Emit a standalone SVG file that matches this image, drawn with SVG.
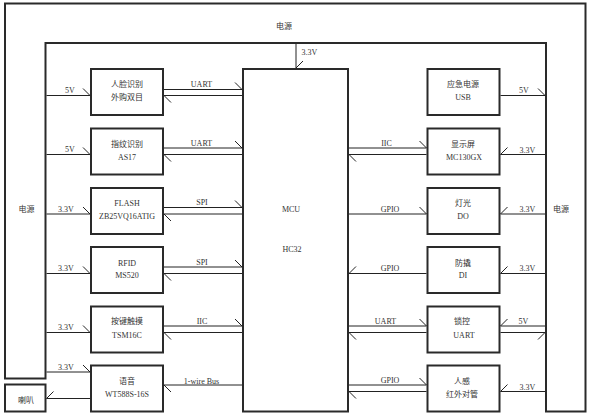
<svg xmlns="http://www.w3.org/2000/svg" width="592" height="417" viewBox="0 0 592 417">
<defs>
<style>
.frame{fill:none;stroke:#2a2a2a;stroke-width:2}
.box{fill:#fff;stroke:#2a2a2a;stroke-width:2}
.ln{stroke:#222;stroke-width:1;fill:none}
.t{font-family:"Liberation Serif","Noto Sans CJK SC",serif;font-size:8px;fill:#333;text-anchor:middle}
.a{marker-end:url(#ta)}
.b{marker-end:url(#tb)}
</style>
<marker id="ta" markerUnits="userSpaceOnUse" markerWidth="20" markerHeight="20" viewBox="-10 -10 20 20" refX="0" refY="0" orient="auto" overflow="visible"><path d="M-7,-7 L0,0" stroke="#222" stroke-width="1" fill="none"/></marker>
<marker id="tb" markerUnits="userSpaceOnUse" markerWidth="20" markerHeight="20" viewBox="-10 -10 20 20" refX="0" refY="0" orient="auto" overflow="visible"><path d="M-7,7 L0,0" stroke="#222" stroke-width="1" fill="none"/></marker>
</defs>
<rect width="592" height="417" fill="#fff"/>

<g id="power">
<polygon class="frame" points="5,3.5 585.5,3.5 585.5,411.5 546,411.5 546,43 45.5,43 45.5,378.5 5,378.5"/>
<text class="t" x="284" y="29">电源</text>
<text class="t" x="26.5" y="212">电源</text>
<text class="t" x="561" y="212">电源</text>
</g>

<g id="speaker">
<rect class="box" x="5" y="384.5" width="40.5" height="27"/>
<text class="t" x="26" y="403">喇叭</text>
</g>

<g id="mcu">
<rect class="box" x="243" y="69" width="105" height="342.5"/>
<text class="t" x="291" y="212">MCU</text>
<text class="t" x="292" y="252">HC32</text>
</g>

<g id="face">
<rect class="box" x="91" y="69" width="72" height="46"/>
<text class="t" x="127" y="86.5">人脸识别</text>
<text class="t" x="127" y="100">外购双目</text>
</g>
<g id="finger">
<rect class="box" x="91" y="128.5" width="72" height="46"/>
<text class="t" x="127" y="146.5">指纹识别</text>
<text class="t" x="127" y="159.5">AS17</text>
</g>
<g id="flash">
<rect class="box" x="91" y="188" width="72" height="46"/>
<text class="t" x="127" y="205.5">FLASH</text>
<text class="t" x="127" y="219">ZB25VQ16ATIG</text>
</g>
<g id="rfid">
<rect class="box" x="91" y="247" width="72" height="46"/>
<text class="t" x="127" y="265.5">RFID</text>
<text class="t" x="127" y="278">MS520</text>
</g>
<g id="touch">
<rect class="box" x="91" y="306.5" width="72" height="46"/>
<text class="t" x="127" y="324">按键触摸</text>
<text class="t" x="127" y="337.5">TSM16C</text>
</g>
<g id="voice">
<rect class="box" x="91" y="365.5" width="72" height="46"/>
<text class="t" x="127" y="384">语音</text>
<text class="t" x="127" y="396.5">WT588S-16S</text>
</g>

<g id="usb">
<rect class="box" x="427.5" y="69" width="72" height="46"/>
<text class="t" x="463" y="86.5">应急电源</text>
<text class="t" x="463" y="100">USB</text>
</g>
<g id="display">
<rect class="box" x="427.5" y="128.5" width="72" height="46"/>
<text class="t" x="463" y="146.5">显示屏</text>
<text class="t" x="464" y="159.5">MC130GX</text>
</g>
<g id="light">
<rect class="box" x="427.5" y="188" width="72" height="46"/>
<text class="t" x="463" y="205.5">灯光</text>
<text class="t" x="463" y="219">DO</text>
</g>
<g id="tamper">
<rect class="box" x="427.5" y="247" width="72" height="46"/>
<text class="t" x="463" y="265.5">防撬</text>
<text class="t" x="463" y="278">DI</text>
</g>
<g id="lock">
<rect class="box" x="427.5" y="306.5" width="72" height="46"/>
<text class="t" x="462" y="324">锁控</text>
<text class="t" x="464" y="337.5">UART</text>
</g>
<g id="pir">
<rect class="box" x="427.5" y="365.5" width="72" height="46"/>
<text class="t" x="462" y="384">人感</text>
<text class="t" x="462" y="396.5">红外对管</text>
</g>

<g id="connectors">
<path class="ln a" d="M296,44 V68"/>
<text class="t" x="309.5" y="55">3.3V</text>

<path class="ln a" d="M46.5,95.5 H90"/>
<path class="ln a" d="M46.5,154.5 H90"/>
<path class="ln a" d="M46.5,214 H90"/>
<path class="ln a" d="M46.5,273.5 H90"/>
<path class="ln a" d="M46.5,332.5 H90"/>
<path class="ln a" d="M46.5,372 H90"/>
<text class="t" x="70" y="93">5V</text>
<text class="t" x="70" y="152">5V</text>
<text class="t" x="66" y="211.5">3.3V</text>
<text class="t" x="66" y="271">3.3V</text>
<text class="t" x="66" y="330">3.3V</text>
<text class="t" x="66" y="369.5">3.3V</text>

<path class="ln a" d="M164,89.5 H242"/>
<path class="ln a" d="M242,95.5 H164"/>
<path class="ln a" d="M164,148 H242"/>
<path class="ln a" d="M242,154.5 H164"/>
<path class="ln a" d="M164,207.5 H242"/>
<path class="ln a" d="M242,214 H164"/>
<path class="ln a" d="M164,267 H242"/>
<path class="ln a" d="M242,273.5 H164"/>
<path class="ln a" d="M164,326 H242"/>
<path class="ln a" d="M242,332.5 H164"/>
<path class="ln a" d="M242,385 H164"/>
<path class="ln b" d="M90,398.5 H46.5"/>
<text class="t" x="201.5" y="87">UART</text>
<text class="t" x="201.5" y="145.5">UART</text>
<text class="t" x="202" y="205">SPI</text>
<text class="t" x="202" y="264.5">SPI</text>
<text class="t" x="202" y="323.5">IIC</text>
<text class="t" x="201.5" y="383.5">1-wire Bus</text>

<path class="ln a" d="M349,148 H426.5"/>
<path class="ln a" d="M426.5,154.5 H349"/>
<path class="ln a" d="M349,214 H426.5"/>
<path class="ln b" d="M426.5,273.5 H349"/>
<path class="ln a" d="M349,326 H426.5"/>
<path class="ln a" d="M426.5,332.5 H349"/>
<path class="ln a" d="M349,385 H426.5"/>
<path class="ln a" d="M426.5,391.5 H349"/>
<text class="t" x="386.5" y="145.5">IIC</text>
<text class="t" x="390" y="211.5">GPIO</text>
<text class="t" x="390" y="271">GPIO</text>
<text class="t" x="385.5" y="323.5">UART</text>
<text class="t" x="390" y="383">GPIO</text>

<path class="ln a" d="M500.5,95.5 H545"/>
<path class="ln b" d="M545,154.5 H500.5"/>
<path class="ln b" d="M545,214 H500.5"/>
<path class="ln b" d="M545,273.5 H500.5"/>
<path class="ln b" d="M545,326 H500.5"/>
<path class="ln b" d="M500.5,332.5 H545"/>
<path class="ln b" d="M545,391.5 H500.5"/>
<text class="t" x="524" y="93">5V</text>
<text class="t" x="527.5" y="152.5">3.3V</text>
<text class="t" x="527.5" y="212">3.3V</text>
<text class="t" x="527.5" y="271">3.3V</text>
<text class="t" x="523.5" y="323.5">5V</text>
<text class="t" x="527.5" y="389.5">3.3V</text>
</g>
</svg>
